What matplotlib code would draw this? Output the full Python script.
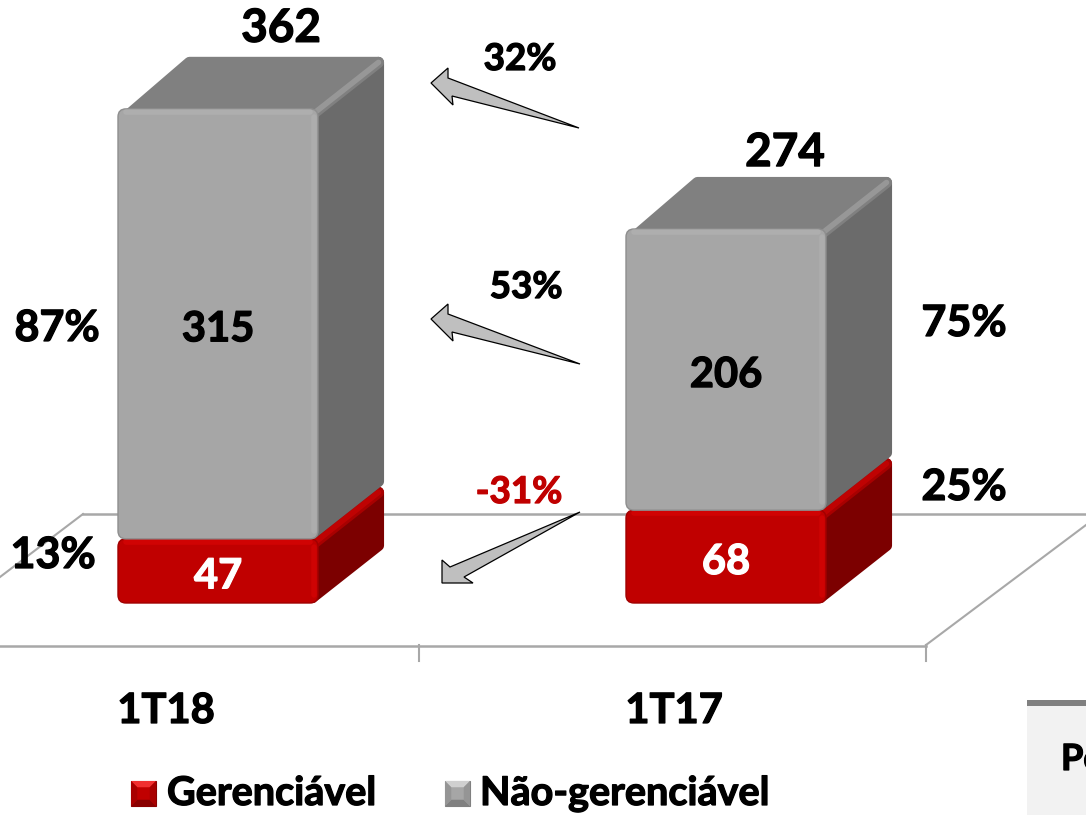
import matplotlib
matplotlib.use('Agg')
import matplotlib.pyplot as plt
import matplotlib.patheffects as pe
from matplotlib.patches import FancyBboxPatch, Polygon, Rectangle

plt.rcParams['font.family'] = ['Lato', 'DejaVu Sans']
plt.rcParams['font.weight'] = 'bold'

categories = ['1T18', '1T17']
gerenciavel = [47, 68]
nao_gerenciavel = [315, 206]
totals = [362, 274]
pct_ger = ['13%', '25%']
pct_nao = ['87%', '75%']
var_labels = ['32%', '53%', '-31%']
legend_labels = ['Gerenciável', 'Não-gerenciável']

W, H = 1086, 815
PX_Y = 1.365      # pixels per unit
PX_X = 508.0      # pixels per category
X0, Y0 = 218, 603
BAR_W = 200 / PX_X
DX, DY = 66 / PX_X, 52 / PX_Y
ASPECT = PX_X / PX_Y

fig = plt.figure(figsize=(W / 100, H / 100), dpi=100)
ax = fig.add_axes([0, 0, 1, 1])
ax.set_xlim(-X0 / PX_X, (W - X0) / PX_X)
ax.set_ylim(-(H - Y0) / PX_Y, Y0 / PX_Y)
ax.axis('off')

# second axes in pixels for floor, arrows and free text
px = fig.add_axes([0, 0, 1, 1], zorder=-1)
px.set_xlim(0, W)
px.set_ylim(H, 0)
px.axis('off')
top = fig.add_axes([0, 0, 1, 1], zorder=5)
top.set_xlim(0, W)
top.set_ylim(H, 0)
top.axis('off')
top.patch.set_alpha(0)
ax.patch.set_alpha(0)


def label(axes, x, y, s, size, color='black', **kw):
    # Lato bold is lighter than the original font, so thicken it a bit
    t = axes.text(x, y, s, fontsize=size, color=color, zorder=6, **kw)
    t.set_path_effects([pe.withStroke(linewidth=0.9, foreground=color)])
    return t


# floor
floor = '#a8a8a8'
px.plot([0, 926], [645.5, 645.5], color=floor, lw=1.8)
px.plot([419, 419], [645, 661], color=floor, lw=1.5)
px.plot([926, 926], [645, 661], color=floor, lw=1.5)
px.plot([83, W], [514, 514], color=floor, lw=1.8)
px.plot([83, 0], [514, 577], color=floor, lw=1.5)
px.plot([926, W], [645, 525], color=floor, lw=1.5)


def box(x, bottom, height, front, edge, side, roof, light, z):
    left = x - BAR_W / 2
    right = x + BAR_W / 2
    up = bottom + height
    r = 8 / PX_X
    # side and roof, wide round edges give the soft corners
    i = 5.5 / PX_X
    j = 5.5 / PX_Y
    ax.add_patch(Polygon([(right - i, bottom + j), (right + DX - i, bottom + DY + j),
                          (right + DX - i, up + DY - j), (right - i, up - j)],
                         fc=side, ec=side, lw=8, joinstyle='round', zorder=z))
    ax.add_patch(Polygon([(left + i * 2, up - j), (left + DX + i, up + DY - j),
                          (right + DX - i, up + DY - j), (right - i, up - j)],
                         fc=roof, ec=roof, lw=8, joinstyle='round', zorder=z + 0.1))
    ax.plot([right - i, right + DX - i], [up - j, up + DY - j], color=light, lw=4, alpha=0.45,
            solid_capstyle='round', zorder=z + 0.2)
    ax.add_patch(FancyBboxPatch((left + r, bottom + r * ASPECT), BAR_W - 2 * r, height - 2 * r * ASPECT,
                                boxstyle='round,pad=%f,rounding_size=%f' % (r, r),
                                mutation_aspect=ASPECT, fc=front, ec=edge, lw=1, zorder=z + 0.3))
    ax.plot([left + r, right - r], [up - 3 / PX_Y, up - 3 / PX_Y], color=light, lw=4, alpha=0.6,
            solid_capstyle='round', zorder=z + 0.4)
    ax.plot([right - 4 / PX_X, right - 4 / PX_X], [bottom + r * ASPECT, up - r * ASPECT], color=light,
            lw=4, alpha=0.5, solid_capstyle='round', zorder=z + 0.4)


total_dx = [63 / PX_X, 59 / PX_X]
total_gap = [11, 8]
for i in range(len(categories)):
    box(i, 0, gerenciavel[i], '#c00000', '#a00000', '#7c0000', '#a80000', '#dc0606', 2)
    box(i, gerenciavel[i], nao_gerenciavel[i], '#a6a6a6', '#8e8e8e', '#6b6b6b', '#808080', '#b4b4b4', 3)
    label(ax, i, gerenciavel[i] / 2 - 4, str(gerenciavel[i]), 30, color='white', ha='center', va='center')
    label(ax, i, gerenciavel[i] + nao_gerenciavel[i] / 2 - 4, str(nao_gerenciavel[i]), 30,
          ha='center', va='center')
    label(ax, i + total_dx[i], totals[i] + DY + total_gap[i], str(totals[i]), 33, ha='center', va='baseline')
    label(top, 166 + 508 * i, 723, categories[i], 30, ha='center', va='baseline')

# percentages
label(top, 57, 341, pct_nao[0], 31, ha='center', va='baseline')
label(top, 53, 568, pct_ger[0], 31, ha='center', va='baseline')
label(top, 964, 336, pct_nao[1], 31, ha='center', va='baseline')
label(top, 964, 500, pct_ger[1], 31, ha='center', va='baseline')

# variation arrows
arrow_up = [(431, 83), (448, 68), (448, 78), (579, 128), (452, 96), (453, 105)]
arrow_mid = [(431, 319), (448, 304), (448, 314), (580, 364), (452, 332), (453, 341)]
arrow_low = [(442, 560), (450, 567), (580, 512), (464, 577), (473, 583), (442, 583)]
for pts in [arrow_up, arrow_mid, arrow_low]:
    top.add_patch(Polygon(pts, fc='#bfbfbf', ec='black', lw=0.9, joinstyle='miter'))
label(top, 520, 70, var_labels[0], 26.5, ha='center', va='baseline')
label(top, 526, 298, var_labels[1], 26.5, ha='center', va='baseline')
label(top, 519, 503, var_labels[2], 26.5, color='#c00000', ha='center', va='baseline')


# legend
def legend_key(x, y, size, mid, upper, lower, sides):
    top.add_patch(Rectangle((x, y), size, size, fc=mid, ec=lower, lw=0.8))
    b = size * 0.25
    top.add_patch(Polygon([(x, y), (x + size, y), (x + size - b, y + b), (x + b, y + b)], fc=upper, lw=0))
    top.add_patch(Polygon([(x, y + size), (x + size, y + size), (x + size - b, y + size - b),
                           (x + b, y + size - b)], fc=lower, lw=0))
    top.add_patch(Polygon([(x, y), (x + b, y + b), (x + b, y + size - b), (x, y + size)], fc=sides, lw=0))
    top.add_patch(Polygon([(x + size, y), (x + size - b, y + b), (x + size - b, y + size - b),
                           (x + size, y + size)], fc=sides, lw=0))


legend_key(131, 781, 25, '#c00000', '#f03030', '#8a0000', '#a80000')
legend_key(445, 781, 25, '#a6a6a6', '#d0d0d0', '#808080', '#959595')
label(top, 167, 805, legend_labels[0], 28.5, ha='left', va='baseline')
label(top, 480, 805, legend_labels[1], 28.5, ha='left', va='baseline')

# piece of the table cut by the picture edge
px.add_patch(Rectangle((1027, 706), 59, 109, fc='#f2f2f2', lw=0))
px.add_patch(Rectangle((1027, 700), 59, 6, fc='#808080', lw=0))
label(top, 1061, 770, 'Pe', 26, ha='left', va='baseline', clip_on=True)

fig.savefig('out.png', dpi=100)
